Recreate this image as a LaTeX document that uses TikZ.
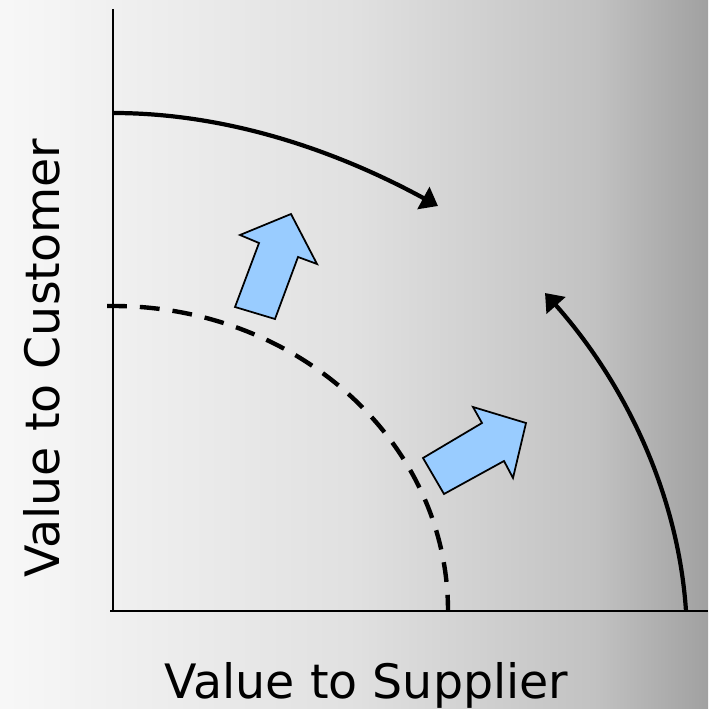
\documentclass[tikz,border=0pt]{standalone}
\usepackage{fontspec}
\setmainfont{DejaVu Sans}
\usetikzlibrary{arrows.meta}
\definecolor{pushblue}{HTML}{99CCFF}
\pgfdeclarehorizontalshading{bgshade}{100bp}{color(0bp)=(black!3); color(25bp)=(black!3); color(50bp)=(black!12); color(67bp)=(black!24); color(75bp)=(black!37); color(100bp)=(black!37)}

\begin{document}
\begin{tikzpicture}[x=0.02cm, y=-0.02cm,
  axis/.style={draw, line width=1.1pt},
  arc/.style={draw, line width=2.4pt, -{Triangle[length=9.5pt,width=14pt]}},
  dasharc/.style={draw, line width=2.5pt, dash pattern=on 11.3pt off 7.4pt},
  push/.style={draw, fill=pushblue, line width=1pt, line join=miter},
  lab/.style={font=\fontsize{27}{33}\selectfont, inner sep=0pt, anchor=base},
]
  \useasboundingbox (0,0) rectangle (708,709);
  \shade[shading=bgshade] (0,0) rectangle (708,709);
  % axes
  \coordinate (origin) at (113,611);
  \coordinate (ytop) at (113,9);
  \coordinate (xleft) at (110,611);
  \coordinate (xend) at (708,611);
  \draw[axis] (ytop) -- (origin);
  \draw[axis] (xleft) -- (xend);
  % old frontier
  \coordinate (old) at (107,306);
  \draw[dasharc] (old) -- (113,306) arc[start angle=-90, end angle=0, x radius=335, y radius=305];
  % new frontier arcs
  \coordinate (cust0) at (113,113);
  \coordinate (cust1) at (438,206);
  \coordinate (supp0) at (686,611);
  \coordinate (supp1) at (545,293);
  \draw[arc] (cust0) .. controls (228,113) and (337,151) .. (cust1);
  \draw[arc] (supp0) .. controls (678,492) and (624,382) .. (supp1);
  % blue push arrows
  \draw[push] (235,307) -- (259,243) -- (240,235) -- (291,214) -- (317,264)
    -- (298,257) -- (275,319) -- cycle;
  \draw[push] (423,458) -- (482,423) -- (473,407) -- (526,423) -- (513,478)
    -- (504,461) -- (444,494) -- cycle;
  % labels
  \node[lab] (xlab) at (366.5,698) {Value to Supplier};
  \node[lab, rotate=90] (ylab) at (59,358) {Value to Customer};
\end{tikzpicture}
\end{document}
